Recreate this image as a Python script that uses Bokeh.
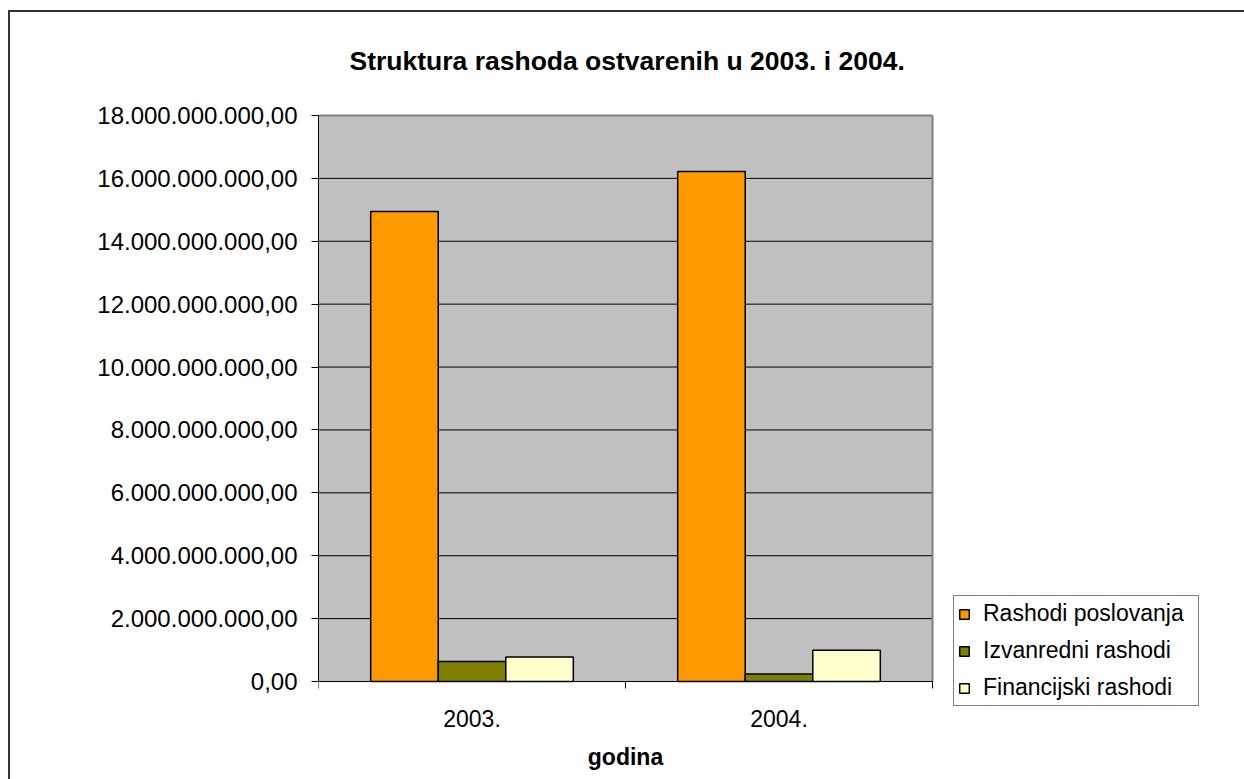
from bokeh.plotting import figure
from bokeh.models import (Range1d, FixedTicker, Legend, LegendItem, Label,
                          ColumnDataSource)
from bokeh.transform import dodge
from bokeh.embed import file_html
from bokeh.resources import INLINE

# Expenditure by year (kn)
years = ["2003.", "2004."]
rashodi_poslovanja = [14.95e9, 16.22e9]
izvanredni_rashodi = [0.64e9, 0.24e9]
financijski_rashodi = [0.78e9, 0.99e9]

series_names = ["Rashodi poslovanja", "Izvanredni rashodi", "Financijski rashodi"]
series_colors = ["#FF9900", "#808000", "#FFFFCC"]

y_max = 18000000000
y_ticks = [0, 2000000000, 4000000000, 6000000000, 8000000000, 10000000000,
           12000000000, 14000000000, 16000000000, 18000000000]
y_tick_labels = ["0,00", "2.000.000.000,00", "4.000.000.000,00", "6.000.000.000,00",
                 "8.000.000.000,00", "10.000.000.000,00", "12.000.000.000,00",
                 "14.000.000.000,00", "16.000.000.000,00", "18.000.000.000,00"]

title_text = "Struktura rashoda ostvarenih u 2003. i 2004."
y_title = "iznos u kn"
x_title = "godina"

FONT = "Liberation Sans"
FS = "23px"

# page geometry (px): the canvas frame also holds the titles and the legend,
# the grey plot area is the part of it between the axes
W, H = 1244, 779
frame_left, frame_right, frame_top, frame_bottom = 318, 1236, 20, 775
area_right, area_top, area_bottom = 932, 115, 681

n = len(years)
slot_centres = [i + 0.5 for i in range(n)]
slot_edges = list(range(n + 1))

x_per_px = n / (area_right - frame_left)
y_per_px = y_max / (area_bottom - area_top)
x_hi = (frame_right - frame_left) * x_per_px
y_lo = -(frame_bottom - area_bottom) * y_per_px
y_hi = y_max + (area_top - frame_top) * y_per_px


def px_x(px):
    return (px - frame_left) * x_per_px


def px_y(py):
    return (area_bottom - py) * y_per_px


# thin frame around the whole chart area (left and top edges are on screen)
frame_css = (":host::after { content: ''; position: absolute; left: 8px; top: 10px; "
             "width: 1236px; height: 769px; box-sizing: border-box; "
             "border-left: 2px solid #333333; border-top: 2px solid #333333; "
             "pointer-events: none; }")

p = figure(width=W, height=H,
           x_range=Range1d(0, x_hi), y_range=Range1d(y_lo, y_hi),
           output_backend="svg", toolbar_location=None,
           min_border_left=frame_left, min_border_right=W - frame_right,
           min_border_top=frame_top, min_border_bottom=H - frame_bottom,
           background_fill_color="white", border_fill_color="white",
           outline_line_color=None, stylesheets=[frame_css])
p.title.text = ""
p.title.visible = False

# grey plot area, gridlines and its top/right border
p.quad(left=[0], right=[n], bottom=[0], top=[y_max],
       fill_color="#C0C0C0", line_color=None)
p.segment(x0=[0] * len(y_ticks), x1=[n] * len(y_ticks), y0=y_ticks, y1=y_ticks,
          line_color="black", line_width=1)
p.segment(x0=[0, n], x1=[n, n], y0=[y_max, y_max], y1=[y_max, 0],
          line_color="#808080", line_width=2)

src = ColumnDataSource(dict(pos=slot_centres, rp=rashodi_poslovanja,
                            iz=izvanredni_rashodi, fin=financijski_rashodi))

renderers = []
for col, off, color in zip(["rp", "iz", "fin"], [-0.22, 0.0, 0.22], series_colors):
    r = p.vbar(x=dodge("pos", off), top=col, width=0.22,
               source=src, fill_color=color, line_color="black", line_width=1.5)
    renderers.append(r)

p.xgrid.visible = False
p.ygrid.visible = False

# y axis
ya = p.yaxis[0]
ya.bounds = (0, y_max)
ya.ticker = FixedTicker(ticks=y_ticks)
ya.major_label_overrides = dict(zip(y_ticks, y_tick_labels))
ya.major_tick_out = 7
ya.major_tick_in = 0
ya.minor_tick_line_color = None
ya.axis_line_color = "black"
ya.major_tick_line_color = "black"
ya.major_label_text_font = FONT
ya.major_label_text_font_size = "24px"
ya.major_label_text_color = "black"
ya.major_label_standoff = 14

# x axis on the zero line: year labels at slot centres, ticks at slot edges
xa = p.xaxis[0]
xa.fixed_location = 0
xa.bounds = (0, n)
xa.ticker = FixedTicker(ticks=slot_centres, minor_ticks=slot_edges)
xa.major_label_overrides = dict(zip(slot_centres, years))
xa.major_tick_line_color = None
xa.major_tick_out = 0
xa.major_tick_in = 0
xa.minor_tick_out = 7
xa.minor_tick_in = 0
xa.minor_tick_line_color = "black"
xa.axis_line_color = "black"
xa.major_label_text_font = FONT
xa.major_label_text_font_size = FS
xa.major_label_text_color = "black"
xa.major_label_standoff = 21
xa.axis_label = x_title
xa.axis_label_text_font = FONT
xa.axis_label_text_font_size = FS
xa.axis_label_text_font_style = "bold"
xa.axis_label_text_color = "black"
xa.axis_label_standoff = 14

# chart title and value-axis caption
p.add_layout(Label(x=px_x(349), y=px_y(60), text=title_text,
                   text_font=FONT, text_font_size="26.5px",
                   text_font_style="bold", text_color="black",
                   text_align="left", text_baseline="alphabetic"))
p.add_layout(Label(x=px_x(155), y=px_y(80), text=y_title,
                   text_font=FONT, text_font_size=FS,
                   text_color="black",
                   text_align="left", text_baseline="alphabetic"))

# legend to the right of the plot area
legend = Legend(items=[LegendItem(label=s, renderers=[r]) for s, r in zip(series_names, renderers)],
                location=(953 - frame_left, frame_bottom - 706), orientation="vertical",
                border_line_color="black", border_line_width=1,
                background_fill_color="white", background_fill_alpha=1.0,
                label_text_font=FONT, label_text_font_size=FS, label_text_color="black",
                glyph_width=12, glyph_height=12, label_standoff=13, label_width=211,
                padding=4, spacing=10, label_height=22, margin=0)
p.add_layout(legend)

open("out.html", "w").write(file_html(p, INLINE))
